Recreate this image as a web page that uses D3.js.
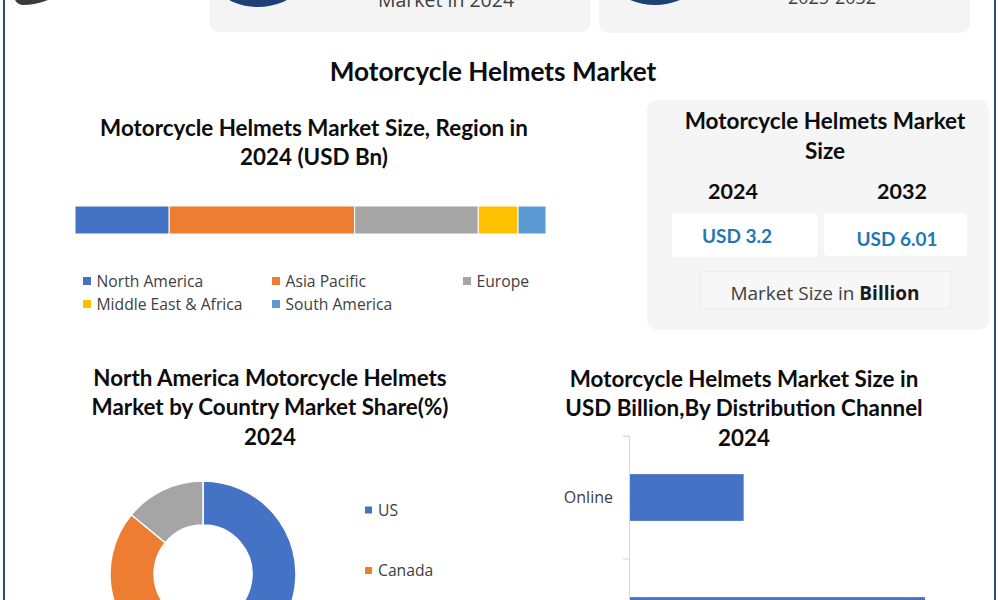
<!DOCTYPE html>
<html>
<head>
<meta charset="utf-8">
<script src="https://cdnjs.cloudflare.com/ajax/libs/d3/7.8.5/d3.min.js"></script>
<style>
  html, body { margin: 0; padding: 0; background: #fff; }
  svg { display: block; }
  .head { font-family: Lato, sans-serif; font-weight: 700; fill: #0d0d0d; text-anchor: middle; }
  .label { font-family: "Open Sans", sans-serif; fill: #404040; }
</style>
</head>
<body>
<svg id="chart" width="1000" height="600"></svg>
<script>
// Regional split of the 2024 market, USD Bn
const regions = ["North America", "Asia Pacific", "Europe", "Middle East & Africa", "South America"];
const regionValues = [0.64, 1.26, 0.84, 0.27, 0.19];
const regionColors = ["#4472C4", "#ED7D31", "#A5A5A5", "#FFC000", "#5B9BD5"];

// North America share by country, percent
const countries = ["US", "Canada", "Mexico"];
const countryShares = [55, 31, 14];
const countryColors = ["#4472C4", "#ED7D31", "#A5A5A5"];

// Distribution channels, USD Bn
const channels = ["Online", "Offline"];
const channelValues = [0.89, 2.31];

// Headline figures
const sizeYears = ["2024", "2032"];
const sizeLabels = ["USD 3.2", "USD 6.01"];

const svg = d3.select("#chart");
const pageHeight = 600;

function heading(lines, cx, ys, size) {
  lines.forEach((t, i) => {
    svg.append("text").attr("class", "head").attr("x", cx).attr("y", ys[i])
      .attr("font-size", size).text(t);
  });
}

function panel(x, y, w, h, fill, r) {
  return svg.append("rect").attr("x", x).attr("y", y).attr("width", w).attr("height", h)
    .attr("rx", r).attr("fill", fill);
}

// Page frame
svg.append("rect").attr("x", 4).attr("y", -5).attr("width", 991).attr("height", 620)
  .attr("fill", "none").attr("stroke", "#2F4B75").attr("stroke-width", 2);

// Header strip: helmet, stat cards
svg.append("path").attr("d", "M15,0 L48,0 Q36,5 22,5 Q17,4 15,0 Z").attr("fill", "#3a3a3a");
panel(209, -20, 382, 52, "#F4F4F4", 10);
panel(599, -20, 371, 53, "#F4F4F4", 10);
svg.append("circle").attr("cx", 258).attr("cy", -56).attr("r", 63).attr("fill", "#1F3F77");
svg.append("circle").attr("cx", 655).attr("cy", -60).attr("r", 65).attr("fill", "#1F3F77");
svg.append("text").attr("class", "label").attr("x", 446).attr("y", 7).attr("text-anchor", "middle")
  .attr("font-size", 19.5).text("Market in 2024");
svg.append("text").attr("class", "label").attr("x", 832).attr("y", 4).attr("text-anchor", "middle")
  .attr("font-size", 18).text("2025-2032");

heading(["Motorcycle Helmets Market"], 493, [81], 26.2);

// Stacked regional bar
heading(["Motorcycle Helmets Market Size, Region in", "2024 (USD Bn)"], 314, [136, 165], 22.4);
const stackX = d3.scaleLinear().domain([0, d3.sum(regionValues)]).range([75, 546]);
const stackStarts = d3.cumsum([0].concat(regionValues));
svg.append("g").selectAll("rect").data(regionValues).join("rect")
  .attr("x", (d, i) => stackX(stackStarts[i]))
  .attr("y", 206).attr("height", 28)
  .attr("width", d => stackX(d) - stackX(0))
  .attr("fill", (d, i) => regionColors[i])
  .attr("stroke", "#fff").attr("stroke-width", 1);

const legendSlots = [[83, 281], [272, 281], [463, 281], [83, 304], [272, 304]];
const regionLegend = svg.append("g").selectAll("g").data(regions).join("g")
  .attr("transform", (d, i) => `translate(${legendSlots[i][0]},${legendSlots[i][1]})`);
regionLegend.append("rect").attr("x", 0).attr("y", -4).attr("width", 8).attr("height", 8)
  .attr("fill", (d, i) => regionColors[i]);
regionLegend.append("text").attr("class", "label").attr("x", 13.5).attr("y", 5.5)
  .attr("font-size", 15.7).text(d => d);

// Market size panel
panel(647, 100, 342, 230, "#F5F5F5", 10);
heading(["Motorcycle Helmets Market", "Size"], 825, [129, 159], 22.5);
const sizeBoxes = [[672, 213, 146, 44], [824, 213, 143, 43]];
const sizeTextX = [737, 897];
const sizeTextY = [243, 246];
const yearX = [733, 902];
sizeYears.forEach((y, i) => {
  heading([y], yearX[i], [199], 21.5);
  panel(...sizeBoxes[i], "#fff", 4);
  svg.append("text").attr("x", sizeTextX[i]).attr("y", sizeTextY[i]).attr("text-anchor", "middle")
    .attr("font-family", "Lato, sans-serif").attr("font-weight", 700).attr("font-size", 19)
    .attr("fill", "#1F78B4").text(sizeLabels[i]);
});
svg.append("rect").attr("x", 700.5).attr("y", 271.5).attr("width", 250).attr("height", 37)
  .attr("fill", "#F7F7F7").attr("stroke", "#ECECEC");
const unit = svg.append("text").attr("class", "label").attr("x", 825).attr("y", 300)
  .attr("text-anchor", "middle").attr("font-size", 19);
unit.append("tspan").text("Market Size in ");
unit.append("tspan").attr("font-weight", 700).attr("fill", "#1a1a1a").text("Billion");

// Country donut
heading(["North America Motorcycle Helmets", "Market by Country Market Share(%)", "2024"], 270, [386, 415, 445], 22.4);
const pie = d3.pie().sort(null)(countryShares);
const arc = d3.arc().innerRadius(49).outerRadius(93);
svg.append("g").attr("transform", "translate(203,574)")
  .selectAll("path").data(pie).join("path")
  .attr("d", arc).attr("fill", (d, i) => countryColors[i])
  .attr("stroke", "#fff").attr("stroke-width", 1.5);
// Legend rows that fall below the page are left out
const countryLegendY = d3.scalePoint().domain(countries).range([510, 631]);
const countryLegend = svg.append("g").selectAll("g")
  .data(countries.filter(d => countryLegendY(d) < pageHeight)).join("g")
  .attr("transform", d => `translate(365,${countryLegendY(d)})`);
countryLegend.append("rect").attr("x", 0).attr("y", -3.5).attr("width", 7).attr("height", 7)
  .attr("fill", (d, i) => countryColors[i]);
countryLegend.append("text").attr("class", "label").attr("x", 13).attr("y", 5.5)
  .attr("font-size", 15.7).text(d => d);

// Distribution channel bars
heading(["Motorcycle Helmets Market Size in", "USD Billion,By Distribution Channel", "2024"], 744, [387, 416, 446], 22.4);
const channelY = d3.scaleBand().domain(channels).range([436, 682]);
const channelX = d3.scaleLinear().domain([0, 2.31]).range([629, 924]);
const axis = svg.append("g").attr("transform", "translate(629,0)")
  .call(d3.axisLeft(channelY).tickSizeOuter(6).tickSizeInner(0).tickPadding(16));
axis.selectAll("text").attr("class", "label").attr("font-size", 16);
// A channel whose label sits below the page keeps its bar but not its label
axis.selectAll(".tick").filter(d => channelY(d) + channelY.bandwidth() / 2 > pageHeight).remove();
axis.select(".domain").attr("stroke", "#D9D9D9");
axis.selectAll(".boundary").data(channels).join("line").attr("class", "boundary")
  .attr("x1", -6).attr("x2", 0)
  .attr("y1", d => channelY(d)).attr("y2", d => channelY(d))
  .attr("stroke", "#D9D9D9");
svg.append("g").selectAll("rect").data(channelValues).join("rect")
  .attr("x", channelX(0) + 1)
  .attr("y", (d, i) => channelY(channels[i]) + channelY.bandwidth() * 0.31)
  .attr("height", channelY.bandwidth() * 0.38)
  .attr("width", d => channelX(d) - channelX(0))
  .attr("fill", "#4472C4");
</script>
</body>
</html>
